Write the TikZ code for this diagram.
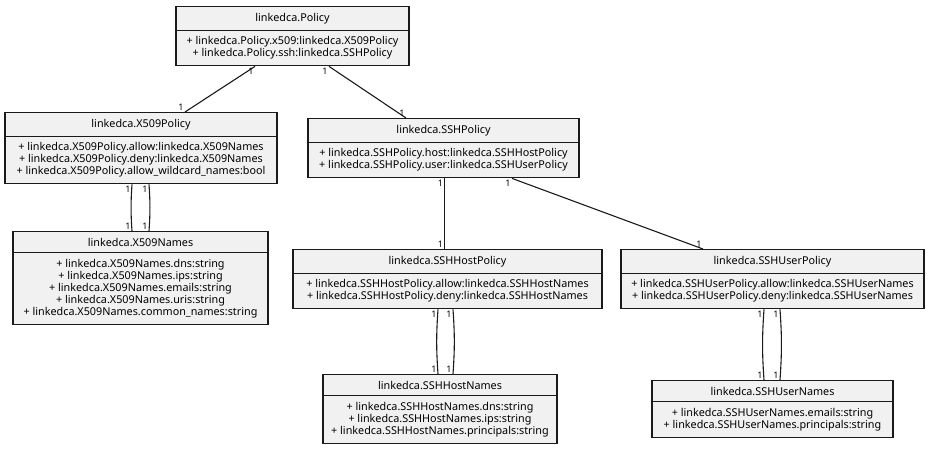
\documentclass[tikz,border=0pt]{standalone}
\usepackage{fontspec}
\setmainfont{Noto Sans}
\usepackage{xcolor}
\usetikzlibrary{shapes.multipart, positioning}
\definecolor{Box_Fill}{HTML}{F1F1F1}
\definecolor{Box_Line}{HTML}{1A1A1A}

\begin{document}
\begin{tikzpicture}[x=1pt, y=-1pt,
    classbox/.style={rectangle split, rectangle split parts=2, draw=Box_Line, fill=Box_Fill,
        line width=1.2pt, align=center, anchor=north, inner xsep=4pt, inner ysep=5.8pt,
        font=\fontsize{10.8}{12}\selectfont},
    link/.style={line width=1.1pt, draw=Box_Line},
    mult/.style={font=\fontsize{9}{10}\selectfont, inner sep=1pt}]
    \useasboundingbox (0,0) rectangle (930,449);
    % Class nodes
    \node[classbox, minimum width=233pt] (P) at (292.5,6) {linkedca.Policy
        \nodepart{two} + linkedca.Policy.x509:linkedca.X509Policy\\ + linkedca.Policy.ssh:linkedca.SSHPolicy};
    \node[classbox, minimum width=272pt] (X) at (141,112) {linkedca.X509Policy
        \nodepart{two} + linkedca.X509Policy.allow:linkedca.X509Names\\ + linkedca.X509Policy.deny:linkedca.X509Names\\
        + linkedca.X509Policy.allow\_wildcard\_names:bool};
    \node[classbox, minimum width=255pt] (XN) at (140.5,231) {linkedca.X509Names
        \nodepart{two} + linkedca.X509Names.dns:string\\ + linkedca.X509Names.ips:string\\
        + linkedca.X509Names.emails:string\\ + linkedca.X509Names.uris:string\\
        + linkedca.X509Names.common\_names:string};
    \node[classbox, minimum width=271pt] (S) at (443.5,118) {linkedca.SSHPolicy
        \nodepart{two} + linkedca.SSHPolicy.host:linkedca.SSHHostPolicy\\ + linkedca.SSHPolicy.user:linkedca.SSHUserPolicy};
    \node[classbox, minimum width=309pt] (SHP) at (447.5,249) {linkedca.SSHHostPolicy
        \nodepart{two} + linkedca.SSHHostPolicy.allow:linkedca.SSHHostNames\\ + linkedca.SSHHostPolicy.deny:linkedca.SSHHostNames};
    \node[classbox, minimum width=303pt] (SUP) at (772.5,249) {linkedca.SSHUserPolicy
        \nodepart{two} + linkedca.SSHUserPolicy.allow:linkedca.SSHUserNames\\ + linkedca.SSHUserPolicy.deny:linkedca.SSHUserNames};
    \node[classbox, minimum width=234pt] (SHN) at (440,374) {linkedca.SSHHostNames
        \nodepart{two} + linkedca.SSHHostNames.dns:string\\ + linkedca.SSHHostNames.ips:string\\
        + linkedca.SSHHostNames.principals:string};
    \node[classbox, minimum width=241pt] (SUN) at (772.5,380) {linkedca.SSHUserNames
        \nodepart{two} + linkedca.SSHUserNames.emails:string\\ + linkedca.SSHUserNames.principals:string};
    % Associations
    \draw[link] ([xshift=-37.5pt]P.south) -- node[mult, pos=0, anchor=north east] {1}
        node[mult, pos=1, anchor=south east] {1} ([xshift=44pt]X.north);
    \draw[link] ([xshift=36.5pt]P.south) -- node[mult, pos=0, anchor=north east] {1}
        node[mult, pos=1, anchor=south east] {1} ([xshift=-37.5pt]S.north);
    \draw[link] ([xshift=-9pt]X.south) to[bend right=4] node[mult, pos=0, anchor=north east] {1}
        node[mult, pos=1, anchor=south east] {1} ([xshift=-8.5pt]XN.north);
    \draw[link] ([xshift=8pt]X.south) to[bend left=4] node[mult, pos=0, anchor=north east] {1}
        node[mult, pos=1, anchor=south east] {1} ([xshift=8.5pt]XN.north);
    \draw[link] ([xshift=1pt]S.south) -- node[mult, pos=0, anchor=north east] {1}
        node[mult, pos=1, anchor=south east] {1} ([xshift=-3pt]SHP.north);
    \draw[link] ([xshift=68.5pt]S.south) -- node[mult, pos=0, anchor=north east] {1}
        node[mult, pos=1, anchor=south east] {1} ([xshift=-69.5pt]SUP.north);
    \draw[link] ([xshift=-9.5pt]SHP.south) to[bend right=4] node[mult, pos=0, anchor=north east] {1}
        node[mult, pos=1, anchor=south east] {1} ([xshift=-2pt]SHN.north);
    \draw[link] ([xshift=5.5pt]SHP.south) to[bend left=4] node[mult, pos=0, anchor=north east] {1}
        node[mult, pos=1, anchor=south east] {1} ([xshift=13pt]SHN.north);
    \draw[link] ([xshift=-8.5pt]SUP.south) to[bend right=4] node[mult, pos=0, anchor=north east] {1}
        node[mult, pos=1, anchor=south east] {1} ([xshift=-8.5pt]SUN.north);
    \draw[link] ([xshift=7.5pt]SUP.south) to[bend left=4] node[mult, pos=0, anchor=north east] {1}
        node[mult, pos=1, anchor=south east] {1} ([xshift=7.5pt]SUN.north);
\end{tikzpicture}
\end{document}
